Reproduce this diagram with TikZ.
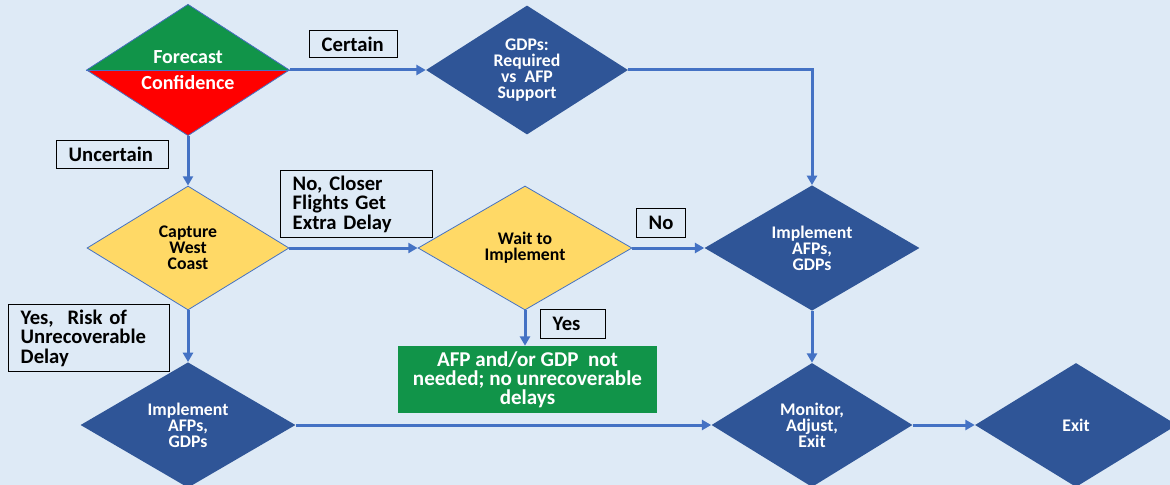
\documentclass[tikz,border=0pt]{standalone}
\usepackage{fontspec}
\setmainfont{Carlito}
\usetikzlibrary{shapes.geometric,arrows.meta}
\definecolor{bgblue}{RGB}{222,234,246}
\definecolor{dkblue}{RGB}{47,85,151}
\definecolor{arrblue}{RGB}{68,114,196}
\definecolor{ylw}{RGB}{255,217,102}
\definecolor{okgreen}{RGB}{17,148,73}
\definecolor{fcred}{RGB}{255,0,0}
\frenchspacing
\begin{document}
\begin{tikzpicture}[x=0.75pt,y=-0.75pt,
  >={Triangle[length=7pt,width=7.5pt]},
  dia/.style={shape=diamond,inner sep=0pt,align=center,minimum width=151.5pt,minimum height=93pt,
    font=\fontsize{13.3}{12}\selectfont\bfseries},
  bluedia/.style={dia,fill=dkblue,text=white},
  ylwdia/.style={dia,fill=ylw,draw=arrblue,line width=0.6pt,text=black},
  lbl/.style={draw=black,line width=1.1pt,anchor=north west,align=left,inner xsep=9pt,inner ysep=0pt,
    font=\fontsize{15.5}{14.5}\selectfont\bfseries},
  flow/.style={->,draw=arrblue,line width=2.25pt}]
  \fill[bgblue] (0,0) rectangle (1170,485);
  \useasboundingbox (0,0) rectangle (1170,485);
  % decision diamonds
  \node[dia,fill=fcred,draw=arrblue,line width=0.6pt,text=white,minimum width=152.25pt,minimum height=91.5pt,
    font=\fontsize{15}{19}\selectfont\bfseries,
    path picture={\fill[okgreen] (path picture bounding box.north west) rectangle (path picture bounding box.east);}]
    (fc) at (188,70) {Forecast\\Confidence};
  \draw[arrblue,line width=0.6pt] (fc.west) -- (fc.east);
  \node[bluedia] (gdp) at (527,70) {GDPs:\\Required\\vs~ AFP\\Support};
  \node[ylwdia] (cap) at (188,248) {Capture\\West\\Coast};
  \node[ylwdia,minimum width=160.5pt] (wait) at (525,248) {Wait to\\Implement};
  \node[bluedia,minimum width=161.25pt] (impR) at (812,248) {Implement\\AFPs,\\GDPs};
  \node[bluedia,minimum width=161.25pt] (impL) at (188,425) {Implement\\AFPs,\\GDPs};
  \node[bluedia,minimum width=150.75pt] (mon) at (812,425) {Monitor,\\Adjust,\\Exit};
  \node[bluedia] (exit) at (1076,425) {Exit};
  \node[fill=okgreen,text=white,align=center,minimum width=194.25pt,minimum height=50.25pt,inner sep=0pt,
    font=\fontsize{15.8}{14.3}\selectfont\bfseries] (na) at (527.5,379.5)
    {AFP and/or GDP~ not\\needed; no unrecoverable\\delays};
  % labels
  \node[lbl,text width=48pt,minimum height=20.25pt] (lcert) at (309,30) {Certain};
  \node[lbl,text width=66pt,minimum height=21pt] (lunc) at (56,140) {Uncertain};
  \node[lbl,text width=96pt,minimum height=50.25pt] (lcloser) at (280,170) {No, Closer\\Flights Get\\Extra Delay};
  \node[lbl,text width=18.75pt,minimum height=21.75pt] (lno) at (636,208) {No};
  \node[lbl,text width=30.75pt,minimum height=21.75pt] (lyes) at (540,309) {Yes};
  \node[lbl,text width=102.75pt,minimum height=50.25pt] (lrisk) at (8,304) {Yes,~ Risk of\\Unrecoverable\\Delay};
  % connectors
  \draw[flow] (fc.east) -- (gdp.west);
  \draw[flow] (gdp.east) -| (impR.north);
  \draw[flow] (fc.south) -- (cap.north);
  \draw[flow] (cap.east) -- (wait.west);
  \draw[flow] (wait.east) -- (impR.west);
  \draw[flow] (wait.south) -- (wait.south |- na.north);
  \draw[flow] (cap.south) -- (impL.north);
  \draw[flow] (impL.east) -- (mon.west);
  \draw[flow] (impR.south) -- (mon.north);
  \draw[flow] (mon.east) -- (exit.west);
\end{tikzpicture}
\end{document}
